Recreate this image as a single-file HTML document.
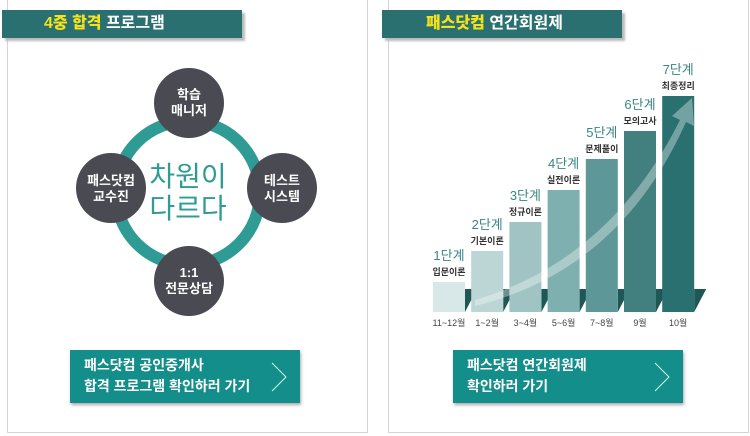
<!DOCTYPE html>
<html><head><meta charset="utf-8"><style>
body{margin:0;width:750px;height:436px;background:#fff;position:relative;overflow:hidden;font-family:"Liberation Sans","Noto Sans CJK KR",sans-serif}
.panel{position:absolute;top:0;height:432px;border:1px solid #d4d4d4;border-top:none;background:#fff}
.title{position:absolute;top:10px;height:28px;width:240px;background:#2a7070;box-shadow:3px 3px 2px #bbb;color:#fff;font-size:16px;font-weight:bold;line-height:28px}
.title b{color:#f6e21a}
.btn{position:absolute;top:350px;width:230px;height:53px;background:#138e8a;box-shadow:1px 2px 3px #aaa;color:#fff;font-size:14px;font-weight:bold;line-height:21px;box-sizing:border-box;padding:5px 0 0 14px}
</style></head><body>
<div class="panel" style="left:7px;width:359px"></div>
<div class="panel" style="left:388px;width:359px"></div>
<div class="title" style="left:2px;padding-left:42px;box-sizing:border-box"><b>4중 합격</b> 프로그램</div>
<div class="title" style="left:382px;padding-left:44px;box-sizing:border-box"><b>패스닷컴</b> 연간회원제</div>

<svg style="position:absolute;left:0;top:0" width="375" height="436">
<circle cx="188" cy="193" r="72" fill="none" stroke="#2e9c95" stroke-width="12"/>
<g font-family="Liberation Sans, Noto Sans CJK KR, sans-serif" font-weight="bold" fill="#fff" text-anchor="middle" font-size="13">
<circle cx="189" cy="103" r="35" fill="#4a4b52"/>
<text x="189" y="99">학습</text><text x="189" y="115">매니저</text>
<circle cx="111" cy="188" r="35" fill="#4a4b52"/>
<text x="111" y="185">패스닷컴</text><text x="111" y="201">교수진</text>
<circle cx="282" cy="188" r="35" fill="#4a4b52"/>
<text x="282" y="185">테스트</text><text x="282" y="201">시스템</text>
<circle cx="189" cy="281" r="35" fill="#4a4b52"/>
<text x="189" y="277">1:1</text><text x="189" y="293">전문상담</text>
</g>
<g font-family="Liberation Sans, Noto Sans CJK KR, sans-serif" fill="#2e9c95" text-anchor="middle" font-size="28">
<text x="188" y="186">차원이</text><text x="188" y="218">다르다</text>
</g>
</svg>

<svg id="chart" style="position:absolute;left:380px;top:0" width="370" height="340"></svg>

<div class="btn" style="left:70px">패스닷컴 공인중개사<br>합격 프로그램 확인하러 가기
<svg style="position:absolute;right:12px;top:12px" width="18" height="30"><polyline points="2,1 16,15 2,29" fill="none" stroke="#cfe" stroke-width="1"/></svg></div>
<div class="btn" style="left:453px">패스닷컴 연간회원제<br>확인하러 가기
<svg style="position:absolute;right:12px;top:12px" width="18" height="30"><polyline points="2,1 16,15 2,29" fill="none" stroke="#cfe" stroke-width="1"/></svg></div>

<script>
const stages=["1단계","2단계","3단계","4단계","5단계","6단계","7단계"];
const subjects=["입문이론","기본이론","정규이론","실전이론","문제풀이","모의고사","최종정리"];
const months=["11~12월","1~2월","3~4월","5~6월","7~8월","9월","10월"];
const levels=[30,61,90,122,153,181,216];
const colors=["#d8e7e7","#bcd5d5","#a0c4c4","#7fb0b0","#5d9797","#427f7f","#2a7070"];
const svg=document.getElementById('chart');
const NS="http://www.w3.org/2000/svg";
const base=312,x0=53,step=38.2,bw=32;
const yS=v=>base-v;
const xS=i=>x0+i*step;
function mk(t,a){const e=document.createElementNS(NS,t);for(const k in a)e.setAttribute(k,a[k]);svg.appendChild(e);return e;}
levels.forEach((v,i)=>{
 const sh=mk('polygon',{points:`${xS(i)+bw},${base-23} ${xS(i)+bw+12},${base-23} ${xS(i)+bw},${base}`,fill:'#1f5656'});
 
 
});
levels.forEach((v,i)=>{
 const r=mk('rect',{x:xS(i),y:yS(v),width:bw,height:v,fill:colors[i]});
 
 
 const t=mk('text',{x:xS(i)+bw/2,y:yS(v)-22,'text-anchor':'middle','font-size':13,fill:'#3a8585','font-family':'Liberation Sans, Noto Sans CJK KR, sans-serif'});
 t.textContent=stages[i];
 
 
 const s=mk('text',{x:xS(i)+bw/2,y:yS(v)-7,'text-anchor':'middle','font-size':9,'font-weight':'bold',fill:'#333','font-family':'Liberation Sans, Noto Sans CJK KR, sans-serif'});
 s.textContent=subjects[i];
 
 
 const m=mk('text',{x:xS(i)+bw/2,y:base+14,'text-anchor':'middle','font-size':9,fill:'#444','font-family':'Liberation Sans, Noto Sans CJK KR, sans-serif'});
 m.textContent=months[i];
 
 
});
const ar=mk('path',{d:'M95,300 Q230,260 300,120 L292,116 L312,98 L314,126 L306,122 Q240,270 95,306 Z',fill:'#ffffff','fill-opacity':0.35});


</script>
</body></html>
